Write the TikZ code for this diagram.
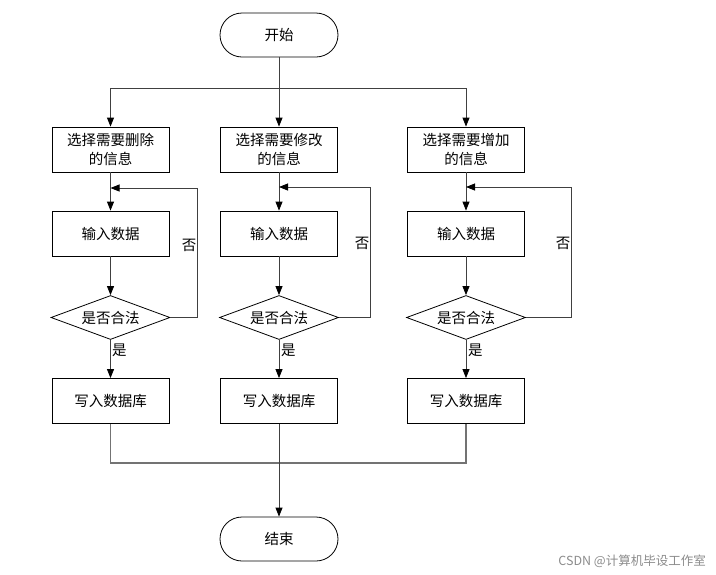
\documentclass[tikz,border=0pt]{standalone}
\usepackage{fontspec}
\setmainfont{Noto Sans CJK SC}
\usetikzlibrary{arrows.meta,shapes.geometric}
\begin{document}
\begin{tikzpicture}[x=1pt,y=-1pt,
  txt/.style={font=\fontsize{14.5}{19}\selectfont},
  box/.style={draw=black, line width=0.8pt, minimum width=117pt, minimum height=45pt, inner sep=0pt, align=center, txt},
  term/.style={box, rounded corners=22pt, minimum width=118pt, minimum height=44pt},
  dec/.style={diamond, aspect=2.7, draw=black, line width=0.8pt, minimum width=119pt, minimum height=44pt, inner sep=0pt, txt},
  conn/.style={draw=black!75, line width=0.8pt},
  arr/.style={conn, -{Triangle[length=9pt,width=7pt,color=black]}},
  lbl/.style={inner sep=0pt, txt}]
\fill[white] (0,0) rectangle (716,574);
\useasboundingbox (0,0) rectangle (716,574);

\node[term] (start) at (279,35) {开始};

\node[box] (s1) at (110.5,149.5) {选择需要删除\\的信息};
\node[box] (s2) at (279,149.5) {选择需要修改\\的信息};
\node[box] (s3) at (466,149.5) {选择需要增加\\的信息};

\node[box] (i1) at (110.5,233.5) {输入数据};
\node[box] (i2) at (279,233.5) {输入数据};
\node[box] (i3) at (466,233.5) {输入数据};

\node[dec] (d1) at (110.5,317.5) {是否合法};
\node[dec] (d2) at (279,317.5) {是否合法};
\node[dec] (d3) at (466,317.5) {是否合法};

\node[box] (w1) at (110.5,401) {写入数据库};
\node[box] (w2) at (279,401) {写入数据库};
\node[box] (w3) at (466,401) {写入数据库};

\node[term] (end) at (279,539) {结束};

% branch
\coordinate (b1) at (110.5,88);
\coordinate (b3) at (466,88);
\draw[arr] (start.south) -- (s2.north);
\draw[arr] (b3) -- (s3.north);
\draw[arr] (b1) -- (s1.north);
\draw[conn] (b1) -- (b3);

% columns
\foreach \k in {1,2,3}{
  \draw[arr] (s\k.south) -- (i\k.north);
  \draw[arr] (i\k.south) -- (d\k.north);
  \draw[arr] (d\k.south) -- (w\k.north);
}

% feedback loops
\coordinate (r1) at (197,188);
\coordinate (r2) at (370,187);
\coordinate (r3) at (571,187);
\coordinate (t1) at (110.5,188);
\coordinate (t2) at (279,187);
\coordinate (t3) at (466,187);
\draw[arr] (d1.east) -| (r1) -- (t1);
\draw[arr] (d2.east) -| (r2) -- (t2);
\draw[arr] (d3.east) -| (r3) -- (t3);

% labels
\node[lbl, anchor=east] (n1) at (196.5,245) {否};
\node[lbl, anchor=east] (n2) at (369.5,243) {否};
\node[lbl, anchor=east] (n3) at (570.5,243) {否};
\node[lbl, anchor=west] (y1) at (112,350) {是};
\node[lbl, anchor=west] (y2) at (281,350) {是};
\node[lbl, anchor=west] (y3) at (468,350) {是};

% merge
\coordinate (m1) at (110.5,463);
\coordinate (m3) at (466,463);
\draw[conn, draw=black!55, line width=1.2pt] (w1.south) -- (m1) -- (m3) -- (w3.south);
\draw[arr] (w2.south) -- (end.north);

% watermark
\node[inner sep=0pt, anchor=east, text=black!45, font=\fontsize{12.5}{14}\selectfont] (wm) at (706,561) {CSDN @计算机毕设工作室};
\end{tikzpicture}
\end{document}
